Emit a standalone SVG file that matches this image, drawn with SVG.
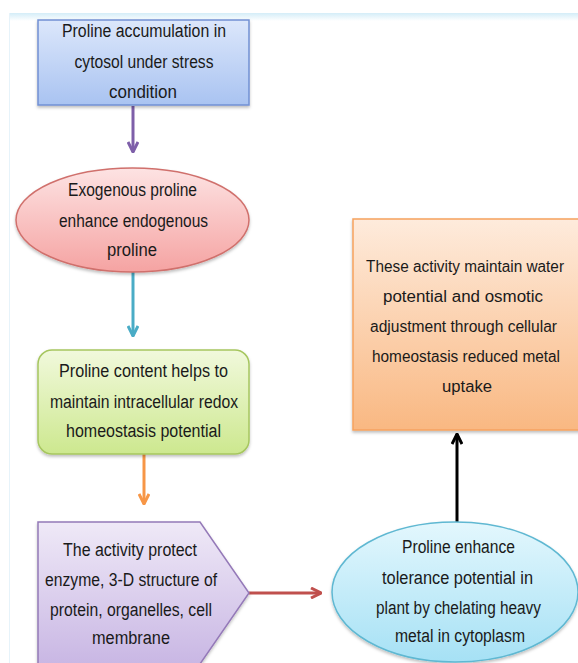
<svg xmlns="http://www.w3.org/2000/svg" width="578" height="663" viewBox="0 0 578 663">
<defs>
<linearGradient id="gBand" x1="0" y1="0" x2="0" y2="1"><stop offset="0" stop-color="#d4edf8"/><stop offset="1" stop-color="#ffffff"/></linearGradient>
<linearGradient id="gBlue" x1="0" y1="0" x2="0" y2="1"><stop offset="0" stop-color="#dce7fb"/><stop offset="1" stop-color="#a9c3f1"/></linearGradient>
<linearGradient id="gRed" x1="0" y1="0" x2="0" y2="1"><stop offset="0" stop-color="#fde3e3"/><stop offset="1" stop-color="#f5a3a2"/></linearGradient>
<linearGradient id="gGreen" x1="0" y1="0" x2="0" y2="1"><stop offset="0" stop-color="#f1f9dc"/><stop offset="1" stop-color="#cde88f"/></linearGradient>
<linearGradient id="gPurple" x1="0" y1="0" x2="0" y2="1"><stop offset="0" stop-color="#efe9f7"/><stop offset="1" stop-color="#c9b7e4"/></linearGradient>
<linearGradient id="gOrange" x1="0" y1="0" x2="0" y2="1"><stop offset="0" stop-color="#feebdc"/><stop offset="1" stop-color="#f9b882"/></linearGradient>
<linearGradient id="gCyan" x1="0" y1="0" x2="0" y2="1"><stop offset="0" stop-color="#e3f7fd"/><stop offset="1" stop-color="#a6e1f5"/></linearGradient>
<filter id="sh" x="-10%" y="-10%" width="120%" height="130%"><feDropShadow dx="0" dy="2" stdDeviation="1.5" flood-color="#000" flood-opacity="0.25"/></filter>
<marker id="mPurple" viewBox="0 0 12 12" refX="11" refY="6" markerWidth="12" markerHeight="12" markerUnits="userSpaceOnUse" orient="auto"><polyline points="1,1 11,6 1,11" fill="none" stroke="#7e5fa9" stroke-width="3"/></marker>
<marker id="mTeal" viewBox="0 0 12 12" refX="11" refY="6" markerWidth="12" markerHeight="12" markerUnits="userSpaceOnUse" orient="auto"><polyline points="1,1 11,6 1,11" fill="none" stroke="#4aacc6" stroke-width="3"/></marker>
<marker id="mOrange" viewBox="0 0 12 12" refX="11" refY="6" markerWidth="12" markerHeight="12" markerUnits="userSpaceOnUse" orient="auto"><polyline points="1,1 11,6 1,11" fill="none" stroke="#f79646" stroke-width="3"/></marker>
<marker id="mRed" viewBox="0 0 12 12" refX="11" refY="6" markerWidth="12" markerHeight="12" markerUnits="userSpaceOnUse" orient="auto"><polyline points="1,1 11,6 1,11" fill="none" stroke="#c0504d" stroke-width="3"/></marker>
<marker id="mBlack" viewBox="0 0 12 12" refX="11" refY="6" markerWidth="12" markerHeight="12" markerUnits="userSpaceOnUse" orient="auto"><polyline points="1,1 11,6 1,11" fill="none" stroke="#000" stroke-width="3"/></marker>
</defs>
<style>
text{font-family:"Liberation Sans",Arial,sans-serif;font-size:18px;fill:#1a1a1a;text-anchor:middle}
#n5 text{font-size:16px}
.conn line{stroke-width:3;fill:none}
</style>
<rect x="0" y="0" width="578" height="663" fill="#ffffff"/>
<rect x="9" y="13" width="569" height="8" fill="url(#gBand)"/>
<line x1="9.5" y1="13" x2="9.5" y2="663" stroke="#e6f3fa" stroke-width="1"/>

<g class="conn">
<line x1="133" y1="106" x2="133" y2="152" stroke="#7e5fa9" marker-end="url(#mPurple)"/>
<line x1="133" y1="272" x2="133" y2="336" stroke="#4aacc6" marker-end="url(#mTeal)"/>
<line x1="144" y1="454" x2="144" y2="504" stroke="#f79646" marker-end="url(#mOrange)"/>
<line x1="249" y1="593" x2="321" y2="593" stroke="#c0504d" marker-end="url(#mRed)"/>
<line x1="457" y1="522" x2="457" y2="434" stroke="#000" marker-end="url(#mBlack)"/>
</g>

<g id="n1">
<rect x="38" y="20" width="211" height="85" fill="url(#gBlue)" stroke="#7190d3" stroke-width="1.5" filter="url(#sh)"/>
<text x="144" y="37" textLength="164" lengthAdjust="spacingAndGlyphs">Proline accumulation in</text>
<text x="144" y="68" textLength="139" lengthAdjust="spacingAndGlyphs">cytosol under stress</text>
<text x="143" y="98" textLength="68" lengthAdjust="spacingAndGlyphs">condition</text>
</g>

<g id="n2">
<ellipse cx="132.5" cy="220" rx="116.5" ry="52" fill="url(#gRed)" stroke="#d0706c" stroke-width="1.5" filter="url(#sh)"/>
<text x="132.5" y="196" textLength="129" lengthAdjust="spacingAndGlyphs">Exogenous proline</text>
<text x="133.5" y="227" textLength="149" lengthAdjust="spacingAndGlyphs">enhance endogenous</text>
<text x="132" y="256" textLength="50" lengthAdjust="spacingAndGlyphs">proline</text>
</g>

<g id="n3">
<rect x="38" y="350" width="211" height="104" rx="14" fill="url(#gGreen)" stroke="#a6c65f" stroke-width="1.5" filter="url(#sh)"/>
<text x="143.5" y="377" textLength="169" lengthAdjust="spacingAndGlyphs">Proline content  helps to</text>
<text x="144" y="408" textLength="188" lengthAdjust="spacingAndGlyphs">maintain intracellular redox</text>
<text x="143.5" y="437" textLength="155" lengthAdjust="spacingAndGlyphs">homeostasis potential</text>
</g>

<g id="n4">
<polygon points="38,522 200,522 249,593 200,664 38,664" fill="url(#gPurple)" stroke="#9479b8" stroke-width="1.5" filter="url(#sh)"/>
<text x="130" y="556" textLength="134" lengthAdjust="spacingAndGlyphs">The activity protect</text>
<text x="131" y="586" textLength="172" lengthAdjust="spacingAndGlyphs">enzyme, 3-D structure of</text>
<text x="131" y="616" textLength="162" lengthAdjust="spacingAndGlyphs">protein, organelles, cell</text>
<text x="131" y="644" textLength="78" lengthAdjust="spacingAndGlyphs">membrane</text>
</g>

<g id="n5">
<rect x="353" y="219" width="230" height="211" fill="url(#gOrange)" stroke="#f6a25e" stroke-width="1.5" filter="url(#sh)"/>
<text x="465" y="272" textLength="198" lengthAdjust="spacingAndGlyphs">These activity maintain water</text>
<text x="463" y="302" textLength="160" lengthAdjust="spacingAndGlyphs">potential and  osmotic</text>
<text x="463.5" y="332" textLength="187" lengthAdjust="spacingAndGlyphs">adjustment through cellular</text>
<text x="466" y="362" textLength="188" lengthAdjust="spacingAndGlyphs">homeostasis reduced metal</text>
<text x="467" y="392" textLength="50" lengthAdjust="spacingAndGlyphs">uptake</text>
</g>

<g id="n6">
<ellipse cx="455" cy="592" rx="123" ry="70" fill="url(#gCyan)" stroke="#5fb8d2" stroke-width="1.5" filter="url(#sh)"/>
<text x="458.5" y="553" textLength="113" lengthAdjust="spacingAndGlyphs">Proline enhance</text>
<text x="457.5" y="584" textLength="151" lengthAdjust="spacingAndGlyphs">tolerance potential in</text>
<text x="458.5" y="614" textLength="165" lengthAdjust="spacingAndGlyphs">plant by chelating heavy</text>
<text x="460" y="642" textLength="130" lengthAdjust="spacingAndGlyphs">metal in cytoplasm</text>
</g>
</svg>
